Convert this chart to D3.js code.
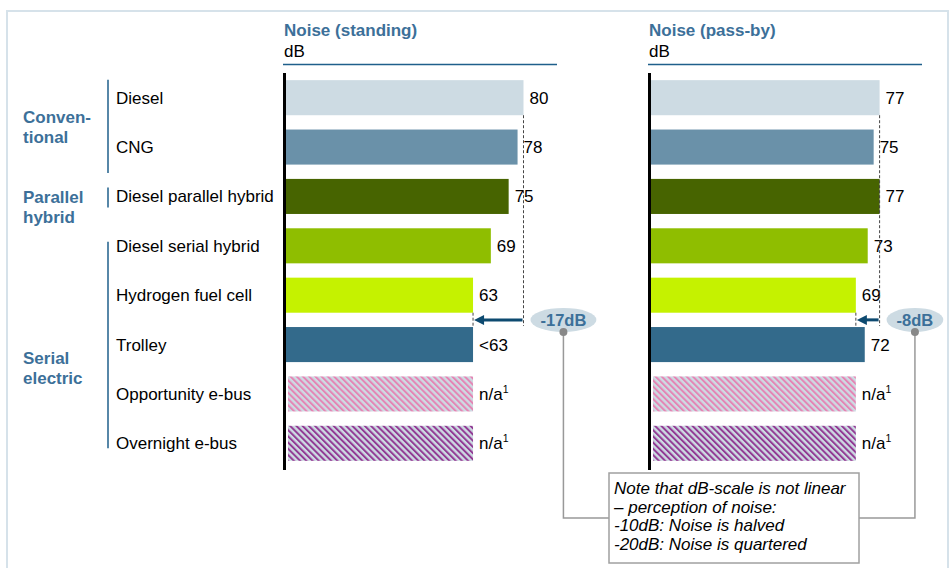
<!DOCTYPE html>
<html>
<head>
<meta charset="utf-8">
<script src="https://d3js.org/d3.v7.min.js"></script>
<style>
  body { margin: 0; background: #fff; }
  text { font-family: Arial, "Liberation Sans", sans-serif; }
</style>
</head>
<body>
<svg width="952" height="568"></svg>
<script>
  // data
  var vehicles = ["Diesel", "CNG", "Diesel parallel hybrid", "Diesel serial hybrid",
                  "Hydrogen fuel cell", "Trolley", "Opportunity e-bus", "Overnight e-bus"];
  var groupLabels = [["Conven-", "tional"], ["Parallel", "hybrid"], ["Serial", "electric"]];
  var groupFirst = ["Diesel", "Diesel parallel hybrid", "Diesel serial hybrid"];
  var groupLast = ["CNG", "Diesel parallel hybrid", "Overnight e-bus"];
  var standing = [80, 78, 75, 69, 63, 63, null, null];
  var standingText = ["80", "78", "75", "69", "63", "<63", "n/a", "n/a"];
  var passBy = [77, 75, 77, 73, 69, 72, null, null];
  var passByText = ["77", "75", "77", "73", "69", "72", "n/a", "n/a"];
  var panelTitles = ["Noise (standing)", "Noise (pass-by)"];
  var unit = "dB";
  var compareFrom = "Diesel", compareTo = "Hydrogen fuel cell";
  var naReference = "Hydrogen fuel cell"; // hatched n/a bars drawn to this length
  var noteLines = ["Note that dB-scale is not linear", "\u2013 perception of noise:",
                   "-10dB: Noise is halved", "-20dB: Noise is quartered"];

  // styles
  var barColors = ["#cddbe3", "#6a91a9", "#476400", "#8fbe00", "#c5f200", "#336a8b",
                   "url(#hatchPink)", "url(#hatchPurple)"];
  var blueText = "#3c7099";
  var darkBlue = "#1f5f8b";
  var fs = "17px";

  var svg = d3.select("svg");

  // hatch patterns
  var defs = svg.append("defs");
  [["hatchPink", "#e584b4"], ["hatchPurple", "#923a94"]].forEach(function(p) {
    var pat = defs.append("pattern")
      .attr("id", p[0])
      .attr("patternUnits", "userSpaceOnUse")
      .attr("width", 4.4).attr("height", 4.4)
      .attr("patternTransform", "rotate(-45)");
    pat.append("rect").attr("width", 4.4).attr("height", 4.4).attr("fill", "#cddbe3");
    pat.append("rect").attr("width", 2).attr("height", 4.4).attr("fill", p[1]);
  });

  // outer frame
  svg.append("rect")
    .attr("x", 7).attr("y", 11).attr("width", 941).attr("height", 600)
    .attr("fill", "none").attr("stroke", "#d6e2ea").attr("stroke-width", 2);

  var y = d3.scaleBand().domain(vehicles).range([73, 468])
    .paddingInner(0.29).paddingOuter(0.145);
  var bw = y.bandwidth();
  var mid = function(v) { return y(v) + bw / 2; };

  var x = d3.scaleLinear().domain([0, 80]).range([0, 237.5]);

  // row labels
  svg.append("g").selectAll("text")
    .data(vehicles).enter().append("text")
    .attr("x", 116)
    .attr("y", function(d) { return mid(d) + 6; })
    .style("font-size", fs)
    .text(function(d) { return d; });

  // group brackets and labels
  var linePad = [[-18, 26], [-9, 11], [-4, 5]];
  var labelDy = [1, 7, 19];
  groupLabels.forEach(function(lab, i) {
    var top = mid(groupFirst[i]), bot = mid(groupLast[i]);
    svg.append("line")
      .attr("x1", 108).attr("x2", 108)
      .attr("y1", top + linePad[i][0]).attr("y2", bot + linePad[i][1])
      .attr("stroke", darkBlue).attr("stroke-width", 1.5);
    var t = svg.append("text")
      .attr("x", 23)
      .attr("y", (top + bot) / 2 + labelDy[i])
      .style("font-size", fs).style("font-weight", "bold").attr("fill", blueText);
    lab.forEach(function(s, k) {
      t.append("tspan").attr("x", 23).attr("dy", k === 0 ? 0 : 20).text(s);
    });
  });

  var panels = [
    { x0: 286, values: standing, labels: standingText, title: panelTitles[0] },
    { x0: 651, values: passBy, labels: passByText, title: panelTitles[1] }
  ];

  var badgeDots = [];

  panels.forEach(function(p) {
    var g = svg.append("g").attr("transform", "translate(" + p.x0 + ",0)");
    var val = function(i) {
      return p.values[i] === null ? p.values[vehicles.indexOf(naReference)] : p.values[i];
    };

    g.append("text").attr("x", -2).attr("y", 36)
      .style("font-size", fs).style("font-weight", "bold").attr("fill", blueText)
      .text(p.title);
    g.append("text").attr("x", -2).attr("y", 57).style("font-size", fs).text(unit);
    g.append("line").attr("x1", -3).attr("x2", 271).attr("y1", 64.5).attr("y2", 64.5)
      .attr("stroke", darkBlue).attr("stroke-width", 1.5);

    // bars
    g.append("g").selectAll("rect")
      .data(vehicles).enter().append("rect")
      .attr("x", function(d, i) { return p.values[i] === null ? 2 : 0; })
      .attr("y", function(d) { return y(d); })
      .attr("width", function(d, i) { return x(val(i)) - (p.values[i] === null ? 2 : 0); })
      .attr("height", bw)
      .attr("fill", function(d, i) { return barColors[i]; });

    // value labels
    var lbl = g.append("g").selectAll("text")
      .data(vehicles).enter().append("text")
      .attr("x", function(d, i) { return x(val(i)) + 6; })
      .attr("y", function(d) { return mid(d) + 6; })
      .style("font-size", fs)
      .text(function(d, i) { return p.labels[i]; });
    lbl.filter(function(d, i) { return p.values[i] === null; })
      .append("tspan").attr("dy", -7).style("font-size", "10.5px").text("1");

    // axis line
    g.append("line").attr("x1", -1.5).attr("x2", -1.5).attr("y1", 73).attr("y2", 470)
      .attr("stroke", "#000").attr("stroke-width", 3);

    // comparison: dashed guides, arrow, badge
    var iFrom = vehicles.indexOf(compareFrom), iTo = vehicles.indexOf(compareTo);
    var xFrom = x(p.values[iFrom]), xTo = x(p.values[iTo]);
    var nextTop = y(vehicles[iTo + 1]);
    var yArrow = (y(compareTo) + bw + nextTop) / 2;

    g.append("line").attr("x1", xFrom).attr("x2", xFrom)
      .attr("y1", y(compareFrom) + bw).attr("y2", nextTop - 1)
      .attr("stroke", "#444").attr("stroke-width", 1).attr("stroke-dasharray", "3,2");
    g.append("line").attr("x1", xTo).attr("x2", xTo)
      .attr("y1", y(compareTo) + bw).attr("y2", nextTop - 1)
      .attr("stroke", "#444").attr("stroke-width", 1).attr("stroke-dasharray", "3,2");

    g.append("line").attr("x1", xFrom - 1).attr("x2", xTo + 9)
      .attr("y1", yArrow).attr("y2", yArrow)
      .attr("stroke", "#0d4a70").attr("stroke-width", 3);
    g.append("polygon")
      .attr("points", [[xTo + 1, yArrow], [xTo + 11, yArrow - 5], [xTo + 11, yArrow + 5]].join(" "))
      .attr("fill", "#0d4a70");

    var diff = p.values[iTo] - p.values[iFrom];
    var bg = g.append("g");
    var ell = bg.append("ellipse").attr("fill", "#cddbe3");
    var bt = bg.append("text")
      .attr("text-anchor", "middle")
      .style("font-size", "16.5px").style("font-weight", "bold").attr("fill", blueText)
      .text(diff + "dB");
    var tw = bt.node().getComputedTextLength();
    var rx = tw / 2 + 10, ry = 12;
    var cx = xFrom + 7 + rx;
    ell.attr("cx", cx).attr("cy", yArrow).attr("rx", rx).attr("ry", ry);
    bt.attr("x", cx).attr("y", yArrow + 6);
    badgeDots.push([p.x0 + cx, yArrow + ry]);
  });

  // note box and connectors
  var box = { x: 609, y: 473, w: 250, h: 90 };
  var yConn = box.y + box.h / 2;
  badgeDots.forEach(function(d, i) {
    var edge = i === 0 ? box.x : box.x + box.w;
    svg.append("path")
      .attr("d", "M" + d[0] + "," + d[1] + "V" + yConn + "H" + edge)
      .attr("fill", "none").attr("stroke", "#999").attr("stroke-width", 1.5);
    svg.append("circle").attr("cx", d[0]).attr("cy", d[1]).attr("r", 4).attr("fill", "#888");
  });

  svg.append("rect")
    .attr("x", box.x).attr("y", box.y).attr("width", box.w).attr("height", box.h)
    .attr("fill", "#fff").attr("stroke", "#a0a0a0").attr("stroke-width", 1.5);
  svg.append("g").selectAll("text")
    .data(noteLines).enter().append("text")
    .attr("x", box.x + 5)
    .attr("y", function(d, i) { return box.y + 21 + i * 18.5; })
    .style("font-size", fs).style("font-style", "italic")
    .text(function(d) { return d; });
</script>
</body>
</html>
